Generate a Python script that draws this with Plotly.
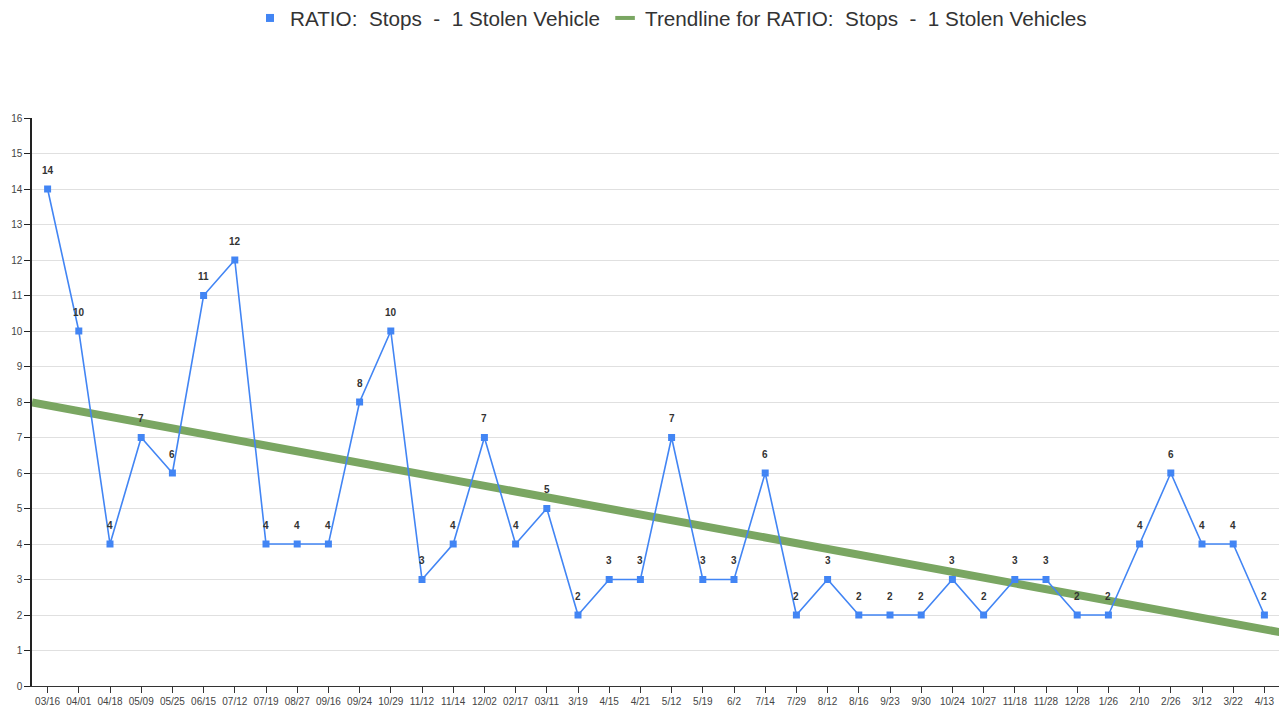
import plotly.graph_objects as go
import numpy as np

dates = ["03/16","04/01","04/18","05/09","05/25","06/15","07/12","07/19","08/27","09/16",
         "09/24","10/29","11/12","11/14","12/02","02/17","03/11","3/19","4/15","4/21",
         "5/12","5/19","6/2","7/14","7/29","8/12","8/16","9/23","9/30","10/24",
         "10/27","11/18","11/28","12/28","1/26","2/10","2/26","3/12","3/22","4/13"]
ratio = [14,10,4,7,6,11,12,4,4,4,
         8,10,3,4,7,4,5,2,3,3,
         7,3,3,6,2,3,2,2,2,3,
         2,3,3,2,2,4,6,4,4,2]

BLUE = "#4285f4"
GREEN = "rgb(122,166,98)"
FONT = "Liberation Sans, Arial, sans-serif"

idx = np.arange(len(ratio))
slope, intercept = np.polyfit(idx, ratio, 1)
tx = [-0.5, len(ratio) - 0.5]
ty = [intercept + slope * v for v in tx]

fig = go.Figure()
fig.add_trace(go.Scatter(
    x=tx, y=ty, mode="lines", showlegend=False,
    line=dict(color=GREEN, width=8), hoverinfo="skip"))
fig.add_trace(go.Scatter(
    x=idx, y=ratio, mode="lines+markers", showlegend=False,
    line=dict(color=BLUE, width=1.6),
    marker=dict(symbol="square", size=7, color=BLUE)))

# legend-only entries
fig.add_trace(go.Scatter(
    x=[None], y=[None], mode="markers",
    name="RATIO:  Stops  -  1 Stolen Vehicle",
    marker=dict(symbol="square", size=8, color=BLUE)))
fig.add_trace(go.Scatter(
    x=[None], y=[None], mode="markers",
    name="Trendline for RATIO:  Stops  -  1 Stolen Vehicles",
    marker=dict(symbol="line-ew", size=14, color=GREEN, line=dict(color=GREEN, width=4))))

for i, v in zip(idx, ratio):
    fig.add_annotation(x=int(i), y=v, text=str(v), showarrow=False, yshift=19,
                       font=dict(size=10, color="#333333", family=FONT, weight="bold"))

fig.update_layout(
    width=1279, height=703,
    margin=dict(l=24, r=7, t=110, b=25),
    paper_bgcolor="white", plot_bgcolor="white",
    font=dict(family=FONT, color="#444444"),
    showlegend=True,
    legend=dict(orientation="h", x=0.512, xanchor="center", y=1 - 10/703, yanchor="middle",
                yref="container", font=dict(size=20.7, color="#333333"), itemwidth=30),
    xaxis=dict(range=[-0.5, len(ratio) - 0.5], tickmode="array", tickvals=list(idx),
               ticktext=dates, showgrid=False, zeroline=False, automargin=False,
               showline=True, linecolor="#333333", linewidth=1,
               ticks="outside", ticklen=6, tickcolor="#333333",
               tickfont=dict(size=10, color="#444444"), tickangle=0),
    yaxis=dict(range=[0, 16], dtick=1, showgrid=True, gridcolor="#e0e0e0",
               zeroline=False, showline=True, linecolor="#222222", linewidth=1.5,
               automargin=False,
               ticks="outside", ticklen=6, tickcolor="#222222",
               tickfont=dict(size=10, color="#444444")),
)

fig.write_html("out.html")
